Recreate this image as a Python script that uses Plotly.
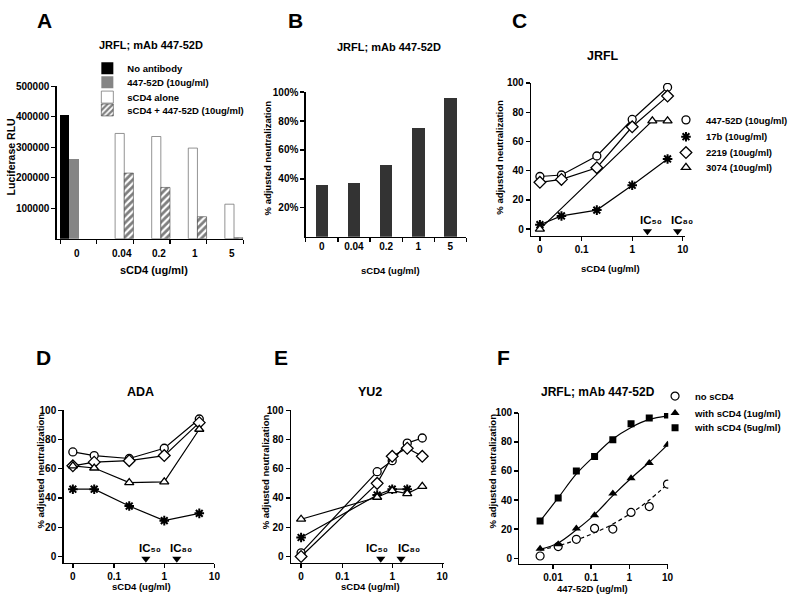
import math
import plotly.graph_objects as go

W, H = 800, 601
FONT = "Liberation Sans, Arial, Helvetica, sans-serif"

# ------------------------------------------------------------------ data
A_cats = ["0", "0.04", "0.2", "1", "5"]
A_no_antibody = [405000, None, None, None, None]
A_mab_447 = [260000, None, None, None, None]
A_scd4_alone = [None, 345000, 335000, 297000, 113000]
A_scd4_plus_mab = [None, 215000, 168000, 72000, 3000]
A_ytick_vals = [100000, 200000, 300000, 400000, 500000]
A_ytick_text = ["100000", "200000", "300000", "400000", "500000"]

B_cats = ["0", "0.04", "0.2", "1", "5"]
B_neutralization = [0.36, 0.37, 0.495, 0.75, 0.96]
B_ytick_vals = [0.2, 0.4, 0.6, 0.8, 1.0]
B_ytick_text = ["20%", "40%", "60%", "80%", "100%"]

ZERO_AT = 0.015  # where the "0" concentration is drawn on the log axes
sCD4_tick_vals = [ZERO_AT, 0.1, 1, 10]
sCD4_tick_text = ["0", "0.1", "1", "10"]
pct_tick_vals = [0, 20, 40, 60, 80, 100]

C_x = [0, 0.04, 0.2, 1, 5]
C_447 = [36, 37, 50, 75, 97]
C_17b = [3, 9, 13, 30, 48]
C_2219 = [32, 34, 42, 70, 91]
C_3074_x = [0, 2.5, 5]
C_3074 = [0, 74, 74]
C_ic = [2.0, 7.9]

D_x = [0, 0.04, 0.2, 1, 5]
D_447 = [71.5, 69, 67, 74, 94]
D_17b = [46, 46, 34.5, 24.5, 29.5]
D_2219 = [62, 64.5, 65.5, 69, 91.5]
D_3074 = [62, 60.5, 50.5, 51, 87]
D_ic = [0.43, 1.78]

E_x = [0, 0.5, 1, 2, 4]
E_447 = [2.5, 58, 65.5, 77.5, 81]
E_17b_x = [0, 0.5, 1, 2]
E_17b = [13, 42, 46, 46]
E_2219 = [0, 50, 68.5, 74, 68.5]
E_3074 = [25.5, 40.5, 45, 43, 48]
E_ic = [0.59, 1.5]

IC_labels = ["IC\u2085\u2080", "IC\u2088\u2080"]
IC_level = -1.5

F_x = [0.0046, 0.0137, 0.041, 0.123, 0.37, 1.11, 3.33, 10]
F_no_scd4 = [1.5, 8, 13, 20.5, 20, 31.5, 35.5, 51]
F_scd4_1 = [6.5, 9.5, 20.5, 29.5, 44.5, 55, 65.5, 78]
F_scd4_5 = [25.5, 41.5, 60, 70, 81.5, 92.5, 96.5, 98.5]
F_fit_no = [5.5, 8.5, 12.5, 17.5, 23.5, 31, 40, 51]
F_fit_1 = [6, 10.5, 19.5, 30, 43, 55, 66, 78]
F_fit_5 = [25.5, 41.5, 58, 70.5, 82, 90, 95.5, 98]
F_tick_vals = [0.01, 0.1, 1, 10]
F_tick_text = ["0.01", "0.1", "1", "10"]


# ------------------------------------------------------------------ helpers
def pos(v):
    return ZERO_AT if v == 0 else v


def dx(l, r):
    return [l / W, r / W]


def dy(t, b):
    return [1 - b / H, 1 - t / H]


def fnt(size):
    return dict(family=FONT, size=size, color="black", weight="bold")


def ann(txt, x, y, size, angle=0):
    return dict(text=txt, x=x / W, y=1 - y / H, xref="paper", yref="paper",
                showarrow=False, xanchor="center", yanchor="middle",
                textangle=angle, font=fnt(size))


def axis(**kw):
    d = dict(showline=True, linecolor="black", linewidth=1.3, ticks="outside",
             ticklen=4, tickwidth=1.3, tickcolor="black", showgrid=False,
             zeroline=False, tickfont=fnt(10), fixedrange=True)
    d.update(kw)
    return d


def legend_at(text_x, y_center):
    return dict(x=(text_x - 40) / W, y=1 - y_center / H, xanchor="left",
                yanchor="middle", bgcolor="rgba(0,0,0,0)", borderwidth=0,
                font=fnt(9.5), itemclick=False, itemdoubleclick=False)


fig = go.Figure()

# ------------------------------------------------------------------ panel A
bar_specs = [
    ("No antibody", A_no_antibody, dict(color="black", line=dict(width=0)), "legend"),
    ("447-52D (10ug/ml)", A_mab_447, dict(color="#858585", line=dict(width=0)), "legend2"),
    ("sCD4 alone", A_scd4_alone, dict(color="white", line=dict(color="#777", width=0.8)), "legend3"),
    ("sCD4 + 447-52D (10ug/ml)", A_scd4_plus_mab,
     dict(color="white", line=dict(color="#444", width=0.6),
          pattern=dict(shape="/", fgcolor="black", bgcolor="white", size=5, solidity=0.55)),
     "legend4"),
]
for name, vals, mk, lg in bar_specs:
    fig.add_trace(go.Bar(x=A_cats, y=vals, name=name, marker=mk, legend=lg,
                         xaxis="x", yaxis="y", hoverinfo="skip"))

# ------------------------------------------------------------------ panel B
fig.add_trace(go.Bar(x=B_cats, y=B_neutralization, width=0.39, showlegend=False,
                     marker=dict(color="#333333", line=dict(width=0)),
                     xaxis="x2", yaxis="y2", hoverinfo="skip"))

# ------------------------------------------------------------------ panels C, D, E
styles = {
    "447": dict(name="447-52D (10ug/ml)", symbol="circle", size=8, color="white", lw=1.3),
    "17b": dict(name="17b (10ug/ml)", symbol="asterisk-open", size=8, color="black", lw=2),
    "2219": dict(name="2219 (10ug/ml)", symbol="diamond", size=9, color="white", lw=1.3),
    "3074": dict(name="3074 (10ug/ml)", symbol="triangle-up", size=8, color="white", lw=1.3),
}
series_order = ["447", "17b", "2219", "3074"]
legend_of = {"447": "legend5", "17b": "legend6", "2219": "legend7", "3074": "legend8"}

panels = [
    ("x3", "y3", {"447": (C_x, C_447), "17b": (C_x, C_17b), "2219": (C_x, C_2219),
                  "3074": (C_3074_x, C_3074)}, C_ic, [4, 4]),
    ("x4", "y4", {"447": (D_x, D_447), "17b": (D_x, D_17b), "2219": (D_x, D_2219),
                  "3074": (D_x, D_3074)}, D_ic, [4, 4]),
    ("x5", "y5", {"447": (E_x, E_447), "17b": (E_17b_x, E_17b), "2219": (E_x, E_2219),
                  "3074": (E_x, E_3074)}, E_ic, [-4, 8]),
]


def marker_of(st):
    return dict(symbol=st["symbol"], size=st["size"], color=st["color"],
                line=dict(color="black", width=st["lw"]))


annotations = []
for xa, ya, series, ics, shifts in panels:
    for key in series_order:
        xs, ys = series[key]
        st = styles[key]
        fig.add_trace(go.Scatter(
            x=[pos(v) for v in xs], y=ys, mode="lines+markers", name=st["name"],
            showlegend=False, line=dict(color="black", width=1.2),
            marker=marker_of(st), xaxis=xa, yaxis=ya, hoverinfo="skip"))
    fig.add_trace(go.Scatter(
        x=ics, y=[IC_level] * len(ics), mode="markers", showlegend=False,
        marker=dict(symbol="triangle-down", size=8, color="black"),
        xaxis=xa, yaxis=ya, hoverinfo="skip"))
    for v, lab, sh in zip(ics, IC_labels, shifts):
        annotations.append(dict(
            text=lab, x=math.log10(v), y=IC_level,
            xref=xa, yref=ya, showarrow=False, xanchor="center", yanchor="bottom",
            xshift=sh, yshift=3, font=fnt(11.5)))

# legend entries for the antibody series (symbols only)
for key in series_order:
    st = styles[key]
    fig.add_trace(go.Scatter(x=[None], y=[None], mode="markers", name=st["name"],
                             marker=marker_of(st), legend=legend_of[key],
                             xaxis="x3", yaxis="y3", hoverinfo="skip"))

# ------------------------------------------------------------------ panel F
fits = [(F_fit_no, dict(dash="4px,3px")), (F_fit_1, {}), (F_fit_5, {})]
for vals, extra in fits:
    fig.add_trace(go.Scatter(x=F_x, y=vals, mode="lines", line_shape="spline",
                             line=dict(color="black", width=1.2, **extra),
                             showlegend=False, xaxis="x6", yaxis="y6", hoverinfo="skip"))
F_series = [
    ("no sCD4", F_no_scd4, dict(symbol="circle", size=8, color="white",
                                 line=dict(color="black", width=1.2)), "legend9"),
    ("with sCD4 (1ug/ml)", F_scd4_1, dict(symbol="triangle-up", size=8, color="black"), "legend10"),
    ("with sCD4 (5ug/ml)", F_scd4_5, dict(symbol="square", size=7, color="black"), "legend11"),
]
for name, vals, mk, lg in F_series:
    fig.add_trace(go.Scatter(x=F_x, y=vals, mode="markers", name=name, marker=mk,
                             legend=lg, xaxis="x6", yaxis="y6", hoverinfo="skip"))

# ------------------------------------------------------------------ text
annotations += [
    # panel letters
    ann("A", 44.5, 15, 21), ann("B", 298, 15, 21), ann("C", 523, 15, 21),
    ann("D", 44, 355, 21), ann("E", 283, 355, 21), ann("F", 507, 355, 21),
    # panel titles
    ann("JRFL; mAb 447-52D", 152, 39, 11), ann("JRFL; mAb 447-52D", 392, 41, 11),
    ann("JRFL", 608, 50, 12.5), ann("ADA", 142, 390, 12.5), ann("YU2", 373, 390, 12.5),
    ann("JRFL; mAb 447-52D", 603, 390, 12),
    # x titles
    ann("sCD4 (ug/ml)", 155, 267, 11), ann("sCD4 (ug/ml)", 393, 267, 9.5),
    ann("sCD4 (ug/ml)", 615, 265, 9.5), ann("sCD4 (ug/ml)", 142.5, 586, 9.5),
    ann("sCD4 (ug/ml)", 373, 586, 9.5), ann("447-52D (ug/ml)", 597, 588, 9.5),
    # y titles
    ann("Luciferase RLU", 12, 152, 10.5, -90),
    ann("% adjusted neutralization", 269, 153, 9.5, -90),
    ann("% adjusted neutralization", 503, 153, 9.5, -90),
    ann("% adjusted neutralization", 40.5, 470, 9.5, -90),
    ann("% adjusted neutralization", 267, 470, 9.5, -90),
    ann("% adjusted neutralization", 496, 470, 9.5, -90),
]
# panel A category labels, centred under the drawn bars
for i, c in enumerate(A_cats):
    annotations.append(dict(text=c, x=i, y=0, xref="x", yref="y", showarrow=False,
                            xanchor="center", yanchor="top", yshift=-7,
                            xshift=-2 if i == 0 else 7, font=fnt(10)))

# ------------------------------------------------------------------ layout
layout = dict(
    width=W, height=H, margin=dict(l=0, r=0, t=0, b=0),
    paper_bgcolor="white", plot_bgcolor="white",
    font=fnt(10), barmode="group", bargap=0, bargroupgap=0,
    annotations=annotations, hovermode=False,
    xaxis=axis(domain=dx(57, 245), anchor="y", type="category", tickson="boundaries",
               showticklabels=False, range=[-0.6, 4.5]),
    yaxis=axis(domain=dy(81, 235), anchor="x", range=[0, 500000],
               tickvals=A_ytick_vals, ticktext=A_ytick_text),
    xaxis2=axis(domain=dx(308, 470), anchor="y2", type="category", tickson="boundaries",
                range=[-0.5, 4.5]),
    yaxis2=axis(domain=dy(87, 233), anchor="x2", range=[0, 1],
                tickvals=B_ytick_vals, ticktext=B_ytick_text),
    xaxis3=axis(domain=dx(535, 690), anchor="y3", type="log", range=[-2.0, 1.04],
                tickvals=sCD4_tick_vals, ticktext=sCD4_tick_text),
    yaxis3=axis(domain=dy(77.7, 232), anchor="x3", range=[-4.5, 100], tickvals=pct_tick_vals),
    xaxis4=axis(domain=dx(64, 216), anchor="y4", type="log", range=[-2.01, 1.0],
                tickvals=sCD4_tick_vals, ticktext=sCD4_tick_text),
    yaxis4=axis(domain=dy(408.3, 562.7), anchor="x4", range=[-4.5, 100], tickvals=pct_tick_vals),
    xaxis5=axis(domain=dx(293, 447), anchor="y5", type="log", range=[-2.03, 1.03],
                tickvals=sCD4_tick_vals, ticktext=sCD4_tick_text),
    yaxis5=axis(domain=dy(408.3, 562.7), anchor="x5", range=[-4.5, 100], tickvals=pct_tick_vals),
    xaxis6=axis(domain=dx(523.3, 673.3), anchor="y6", type="log", range=[-2.88, 1.02],
                tickvals=F_tick_vals, ticktext=F_tick_text),
    yaxis6=axis(domain=dy(411, 563.3), anchor="x6", range=[-3.8, 100], tickvals=pct_tick_vals),
)
legend_rows = {
    "legend": (128, 63), "legend2": (128, 77), "legend3": (128, 92), "legend4": (128, 105),
    "legend5": (711, 115), "legend6": (711, 132), "legend7": (711, 148), "legend8": (711, 163),
    "legend9": (700, 394), "legend10": (700, 411), "legend11": (700, 426),
}
for k, (tx, ty) in legend_rows.items():
    layout[k] = legend_at(tx, ty)

fig.update_layout(**layout)
fig.write_html("out.html", config={"displayModeBar": False, "staticPlot": True},
               post_script="document.body.style.margin='0px';"
                           "document.body.style.overflow='hidden';")
